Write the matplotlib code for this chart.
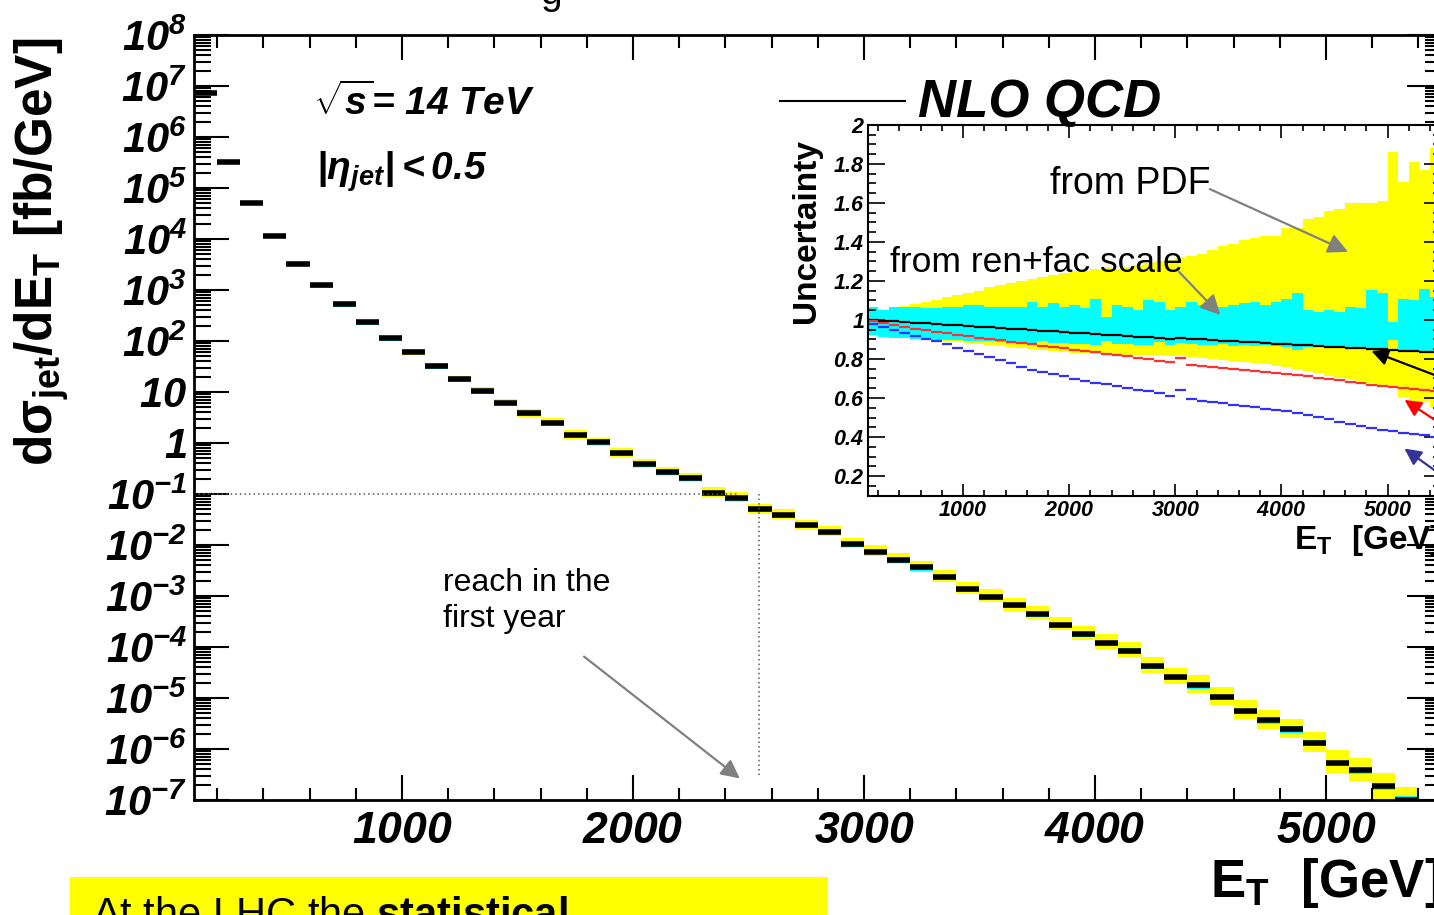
import numpy as np
import matplotlib
matplotlib.use("Agg")
import matplotlib.pyplot as plt
from matplotlib.patches import Rectangle
from matplotlib.lines import Line2D
from matplotlib.ticker import MultipleLocator, LogLocator, NullFormatter, FuncFormatter

plt.rcParams['font.family'] = ['Liberation Sans', 'DejaVu Sans']
plt.rcParams['mathtext.fontset'] = 'custom'
plt.rcParams['mathtext.rm'] = 'Liberation Sans:italic:bold'
plt.rcParams['mathtext.it'] = 'Liberation Sans:italic:bold'
plt.rcParams['mathtext.bf'] = 'Liberation Sans:bold'
plt.rcParams['mathtext.sf'] = 'Liberation Sans'

bin_width = 100
bin_lo = np.arange(100, 5500, bin_width)   # 54 bins of E_T, GeV

# NLO QCD inclusive jet cross section, fb/GeV (one per bin, 100-5400 GeV)
xsec = [7.2e6, 3.3e5, 5.0e4, 1.15e4, 3.3e3, 1.23e3, 525, 234, 112, 61.7,
        32.4, 17.8, 10.5, 6.17, 3.80, 2.51, 1.45, 1.03, 0.637, 0.389,
        0.266, 0.209, 0.107, 0.0851, 0.0501, 0.0389, 0.0245, 0.0182, 0.0107, 7.41e-3,
        5.13e-3, 3.63e-3, 2.40e-3, 1.35e-3, 9.77e-4, 6.61e-4, 4.47e-4, 2.75e-4, 1.78e-4, 1.20e-4,
        8.51e-5, 4.27e-5, 2.57e-5, 1.78e-5, 1.05e-5, 5.62e-6, 3.63e-6, 2.45e-6, 1.32e-6, 5.25e-7,
        3.89e-7, 1.86e-7, 1.02e-7]

# relative uncertainty bands (inset), per bin
pdf_hi = [1.06, 1.05, 1.06, 1.07, 1.08, 1.09, 1.10, 1.12, 1.13, 1.14,
          1.15, 1.17, 1.18, 1.19, 1.20, 1.21, 1.22, 1.23, 1.24, 1.25,
          1.25, 1.26, 1.27, 1.26, 1.27, 1.28, 1.29, 1.30, 1.31, 1.32,
          1.33, 1.34, 1.36, 1.38, 1.39, 1.41, 1.42, 1.43, 1.43, 1.47,
          1.47, 1.52, 1.53, 1.56, 1.57, 1.60, 1.60, 1.60, 1.61, 1.86,
          1.71, 1.81, 1.77, 1.88]
pdf_lo = [0.92, 0.92, 0.915, 0.91, 0.905, 0.90, 0.895, 0.89, 0.885, 0.88,
          0.875, 0.87, 0.865, 0.86, 0.855, 0.85, 0.845, 0.84, 0.835, 0.83,
          0.83, 0.825, 0.825, 0.82, 0.82, 0.82, 0.82, 0.82, 0.815, 0.815,
          0.81, 0.805, 0.80, 0.795, 0.79, 0.785, 0.78, 0.775, 0.765, 0.76,
          0.75, 0.74, 0.73, 0.715, 0.705, 0.695, 0.685, 0.675, 0.665, 0.65,
          0.605, 0.57, 0.58, 0.555]
scale_hi = [1.068, 1.05, 1.068, 1.068, 1.068, 1.06, 1.06, 1.068, 1.068, 1.077,
            1.077, 1.068, 1.068, 1.068, 1.068, 1.09, 1.068, 1.085, 1.068, 1.077,
            1.06, 1.11, 1.017, 1.077, 1.068, 1.05, 1.10, 1.094, 1.05, 1.068,
            1.094, 1.077, 1.06, 1.068, 1.077, 1.085, 1.094, 1.077, 1.094, 1.11,
            1.136, 1.05, 1.04, 1.05, 1.04, 1.068, 1.06, 1.153, 1.136, 0.99,
            1.11, 1.10, 1.16, 1.12]
scale_lo = [0.925, 0.915, 0.91, 0.91, 0.905, 0.905, 0.90, 0.90, 0.895, 0.89,
            0.89, 0.89, 0.885, 0.885, 0.885, 0.88, 0.89, 0.88, 0.88, 0.875,
            0.875, 0.87, 0.89, 0.875, 0.875, 0.87, 0.87, 0.885, 0.87, 0.88,
            0.875, 0.87, 0.87, 0.875, 0.865, 0.87, 0.865, 0.87, 0.865, 0.86,
            0.845, 0.86, 0.865, 0.86, 0.86, 0.855, 0.855, 0.85, 0.855, 0.90,
            0.84, 0.845, 0.83, 0.84]
ratio_black = [1.000, 0.997, 0.993, 0.990, 0.986, 0.983, 0.980, 0.976, 0.973, 0.969,
               0.966, 0.962, 0.959, 0.955, 0.952, 0.949, 0.945, 0.942, 0.938, 0.935,
               0.932, 0.928, 0.925, 0.921, 0.918, 0.915, 0.911, 0.908, 0.904, 0.910,
               0.903, 0.900, 0.897, 0.894, 0.891, 0.888, 0.885, 0.882, 0.879, 0.876,
               0.873, 0.870, 0.867, 0.864, 0.861, 0.858, 0.855, 0.852, 0.849, 0.846,
               0.843, 0.840, 0.837, 0.834]
ratio_red = [0.995, 0.983, 0.972, 0.963, 0.955, 0.947, 0.939, 0.931, 0.924, 0.917,
             0.910, 0.903, 0.896, 0.889, 0.883, 0.876, 0.869, 0.862, 0.855, 0.848,
             0.841, 0.834, 0.827, 0.820, 0.813, 0.806, 0.799, 0.792, 0.785, 0.805,
             0.770, 0.765, 0.760, 0.755, 0.750, 0.745, 0.740, 0.735, 0.730, 0.725,
             0.720, 0.713, 0.705, 0.697, 0.690, 0.682, 0.675, 0.668, 0.663, 0.658,
             0.653, 0.648, 0.643, 0.638]
ratio_blue = [0.980, 0.965, 0.950, 0.935, 0.920, 0.905, 0.890, 0.875, 0.858, 0.842,
              0.826, 0.810, 0.793, 0.777, 0.760, 0.744, 0.733, 0.722, 0.711, 0.700,
              0.689, 0.678, 0.670, 0.661, 0.652, 0.643, 0.634, 0.625, 0.610, 0.640,
              0.594, 0.587, 0.580, 0.573, 0.566, 0.559, 0.552, 0.545, 0.538, 0.531,
              0.524, 0.512, 0.501, 0.490, 0.479, 0.468, 0.457, 0.446, 0.438, 0.430,
              0.423, 0.415, 0.408, 0.400]

reach_et, reach_xsec = 2545, 0.1

W, H = 1434, 915
def box(x0, y0, x1, y1):
    return [x0 / W, 1 - y1 / H, (x1 - x0) / W, (y1 - y0) / H]
def fx(x):
    return x / W
def fy(y):
    return 1 - y / H

YELLOW = '#ffff00'
CYAN = '#00ffff'

fig = plt.figure(figsize=(W / 100, H / 100), dpi=100)

# ---- main panel ----
ax = fig.add_axes(box(194, 35, 1441.5, 800))
n = len(xsec)
c = np.array(xsec)
lo = bin_lo[:n]
ax.bar(lo, c * (np.array(pdf_hi[:n]) - np.array(pdf_lo[:n])), width=bin_width,
       bottom=c * np.array(pdf_lo[:n]), align='edge', color=YELLOW, lw=0)
ax.bar(lo, c * (np.array(scale_hi[:n]) - np.array(scale_lo[:n])), width=bin_width,
       bottom=c * np.array(scale_lo[:n]), align='edge', color=CYAN, lw=0)
ax.hlines(c, lo, lo + bin_width, colors='k', lw=4.0, capstyle='butt')

ax.plot([100, 2460], [reach_xsec, reach_xsec], color='0.35', lw=1.1, ls=(0, (1, 2)))
ax.plot([reach_et, reach_et], [reach_xsec, 2.7e-7], color='0.35', lw=1.1, ls=(0, (1, 2)))
ax.annotate('', xy=(2472, 2.45e-7), xytext=(1779, 7e-5),
            arrowprops=dict(arrowstyle='-|>', color='#808080', lw=1.6, mutation_scale=28))

ax.set_xlim(100, 5500)
ax.set_yscale('log')
ax.set_ylim(1e-7, 1e8)
ax.set_yticks(10.0 ** np.arange(-7, 9))
ylabels = []
for e in range(-7, 9):
    if e == 0:
        ylabels.append('$1$')
    elif e == 1:
        ylabels.append('$10$')
    else:
        ylabels.append(rf'$10^{{{e}}}$')
ax.set_yticklabels(ylabels)
ax.yaxis.set_minor_locator(LogLocator(base=10, subs=np.arange(2, 10), numticks=100))
ax.yaxis.set_minor_formatter(NullFormatter())
ax.xaxis.set_major_locator(MultipleLocator(1000))
ax.xaxis.set_minor_locator(MultipleLocator(200))
ax.xaxis.set_major_formatter(FuncFormatter(lambda v, p: rf'${v:.0f}$'))
ax.tick_params(which='both', direction='in', top=True, right=True, width=1.5)
ax.tick_params(axis='x', which='major', length=18, labelsize=32, pad=8)
ax.tick_params(axis='x', which='minor', length=9)
ax.tick_params(axis='y', which='major', length=25, labelsize=30, pad=5)
ax.tick_params(axis='y', which='minor', length=12)
for s in ax.spines.values():
    s.set_linewidth(2.0)

fig.text(fx(42), fy(252), r'$\mathbf{d\sigma_{jet}/dE_{T}\ [fb/GeV]}$', rotation=90,
         ha='center', va='center', fontsize=37)
fig.text(fx(1441), fy(883), r'$\mathbf{E_{T}\ \ [GeV]}$', ha='right', va='center', fontsize=38)
fig.text(fx(313), fy(115), r'$\sqrt{s}$= 14 TeV', va='baseline', fontsize=28,
         fontweight='bold', fontstyle='italic')
fig.text(fx(316), fy(180), r'$|\eta_{jet}|<0.5$', va='baseline', fontsize=28)
fig.add_artist(Line2D([fx(780), fx(905)], [fy(101), fy(101)], color='k', lw=1.5))
fig.text(fx(918), fy(117), 'NLO QCD', va='baseline', fontsize=38,
         fontweight='bold', fontstyle='italic')
fig.text(fx(443), fy(568), 'reach in the\nfirst year', va='top', fontsize=23,
         linespacing=1.25)
fig.text(fx(540), fy(4), 'g', va='baseline', fontsize=28)

# ---- inset: uncertainties ----
axin = fig.add_axes(box(867.6, 125, 1440.6, 495.5))
axin.set_facecolor('white')
edges = np.append(bin_lo, bin_lo[-1] + bin_width)
def steps(v):
    return np.append(v, v[-1])
axin.fill_between(edges, steps(pdf_lo), steps(pdf_hi), step='post', color=YELLOW, lw=0)
axin.fill_between(edges, steps(scale_lo), steps(scale_hi), step='post', color=CYAN, lw=0)
axin.hlines(ratio_black, bin_lo, bin_lo + bin_width, colors='k', lw=1.6, capstyle='butt')
axin.hlines(ratio_red, bin_lo, bin_lo + bin_width, colors='#ff3030', lw=1.6, capstyle='butt')
axin.hlines(ratio_blue, bin_lo, bin_lo + bin_width, colors='#3030ff', lw=1.6, capstyle='butt')

axin.set_xlim(100, 5500)
axin.set_ylim(0.1, 2.0)
axin.xaxis.set_major_locator(MultipleLocator(1000))
axin.xaxis.set_minor_locator(MultipleLocator(200))
axin.yaxis.set_major_locator(MultipleLocator(0.2))
axin.yaxis.set_minor_locator(MultipleLocator(0.05))
axin.xaxis.set_major_formatter(FuncFormatter(lambda v, p: rf'${v:.0f}$'))
axin.yaxis.set_major_formatter(FuncFormatter(lambda v, p: rf'${v:g}$'))
axin.tick_params(which='both', direction='in', top=True, right=True, width=1.2,
                 labelsize=15.5)
axin.tick_params(axis='x', which='major', length=9, pad=3)
axin.tick_params(axis='x', which='minor', length=4.5)
axin.tick_params(axis='y', which='major', length=12, pad=2)
axin.tick_params(axis='y', which='minor', length=6)
for s in axin.spines.values():
    s.set_linewidth(1.5)

arrow_gray = dict(arrowstyle='-|>', color='#808080', lw=1.6, mutation_scale=30)
axin.annotate('', xy=(4651, 1.344), xytext=(3302, 1.677), arrowprops=arrow_gray)
axin.annotate('', xy=(3443, 1.015), xytext=(3019, 1.256), arrowprops=arrow_gray)
axin.annotate('', xy=(4824, 0.846), xytext=(5689, 0.667), annotation_clip=False,
              arrowprops=dict(arrowstyle='-|>', color='k', lw=1.6, mutation_scale=25))
axin.annotate('', xy=(5138, 0.598), xytext=(5689, 0.40), annotation_clip=False,
              arrowprops=dict(arrowstyle='-|>', color='#ff0000', lw=1.6, mutation_scale=25))
axin.annotate('', xy=(5138, 0.349), xytext=(5689, 0.133), annotation_clip=False,
              arrowprops=dict(arrowstyle='-|>', color='#333399', lw=1.6, mutation_scale=25))

fig.text(fx(806), fy(231), 'Uncertainty', rotation=90, ha='center', va='center',
         fontsize=24, fontweight='bold')
fig.text(fx(1441), fy(540), r'$\mathbf{E_{T}\ \ [GeV]}$', ha='right', va='center', fontsize=24)
fig.text(fx(1050), fy(194), 'from PDF', va='baseline', fontsize=27)
fig.text(fx(890), fy(272), 'from ren+fac scale', va='baseline', fontsize=25.5)

# ---- yellow note box at the bottom ----
fig.add_artist(Rectangle((fx(70), fy(940)), (828 - 70) / W, (940 - 877) / H,
                         transform=fig.transFigure, color=YELLOW, lw=0))
fig.text(fx(92), fy(927), r'At the LHC the $\mathbf{statistical}$', va='baseline', fontsize=30)

fig.savefig('out.png', dpi=100)
